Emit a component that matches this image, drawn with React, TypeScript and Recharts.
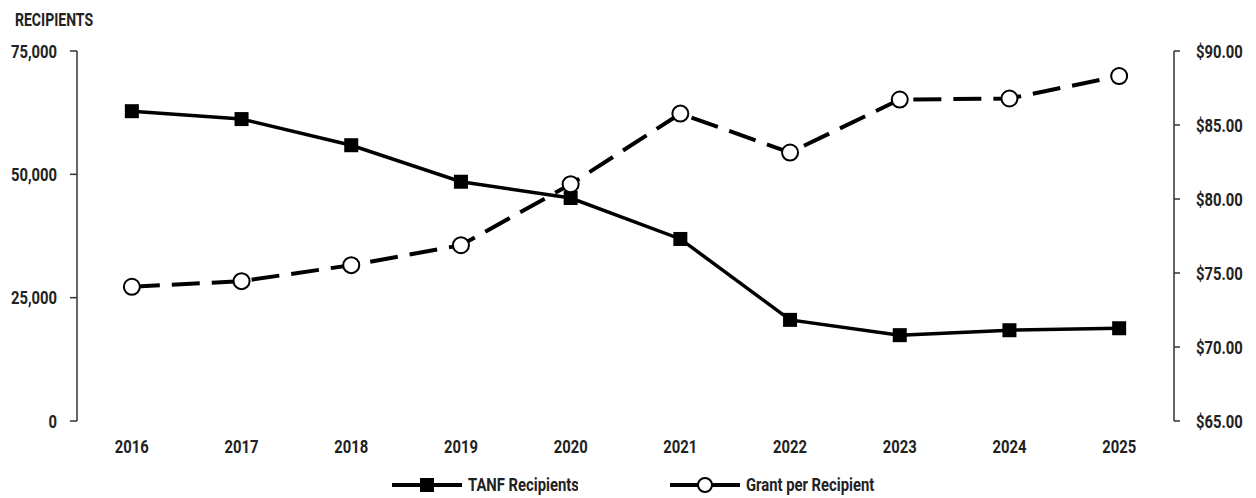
import React from 'react';
import { LineChart, Line, XAxis, YAxis, Legend } from 'recharts';

const years = ['2016', '2017', '2018', '2019', '2020', '2021', '2022', '2023', '2024', '2025'];
const tanfRecipients = [62800, 61200, 55900, 48500, 45200, 36900, 20500, 17400, 18400, 18800];
const grantPerRecipient = [74.07, 74.45, 75.53, 76.88, 81.0, 85.77, 83.14, 86.72, 86.79, 88.31];
const recipientTicks = [0, 25000, 50000, 75000];
const grantTicks = [65, 70, 75, 80, 85, 90];
const seriesOrder = ['tanf', 'grant'];

const FONT = 'Roboto, "DejaVu Sans", sans-serif';
const SQUEEZE = 0.78; // the original face is a condensed one, so squeeze it horizontally
const INK = '#000';
const AXIS = '#333';
const TEXT = '#222';

// each year sits in the middle of its slot, ticks go on the slot edges
const data = years.map((year, i) => ({
  year,
  slot: i + 0.5,
  tanf: tanfRecipients[i],
  grant: grantPerRecipient[i],
}));
const labelTicks = years.map((_, i) => i + 0.5);
const edgeTicks = [0, ...years.map((_, i) => i + 1)];

const makeTick = (fmt: (v: number) => string, anchor: string, dy: string) => (props: any) => {
  const { x, y, payload } = props;
  return (
    <g transform={`translate(${x},${y})`}>
      <text
        transform={`scale(${SQUEEZE},1)`}
        textAnchor={anchor}
        dy={dy}
        fill={TEXT}
        fontFamily={FONT}
        fontWeight={700}
        fontSize={19}
      >
        {fmt(payload.value)}
      </text>
    </g>
  );
};

const YearTick = makeTick((v) => years[Math.floor(v)], 'middle', '0.71em');
const RecipientTick = makeTick((v) => v.toLocaleString('en-US'), 'end', '0.355em');
const GrantTick = makeTick((v) => `$${v.toFixed(2)}`, 'start', '0.355em');

const SquareDot = (props: any) => {
  const { cx, cy, index } = props;
  if (cx == null || cy == null) return null;
  return <rect key={`sq-${index}`} x={cx - 7} y={cy - 7} width={14} height={14} fill={INK} />;
};

const CircleDot = (props: any) => {
  const { cx, cy, index } = props;
  if (cx == null || cy == null) return null;
  return <circle key={`ci-${index}`} cx={cx} cy={cy} r={8} fill="#fff" stroke={INK} strokeWidth={2} />;
};

const LegendContent = (props: any) => {
  const items = [...(props.payload || [])].sort(
    (a: any, b: any) => seriesOrder.indexOf(a.dataKey) - seriesOrder.indexOf(b.dataKey)
  );
  return (
    <div
      style={{
        height: 26,
        display: 'flex',
        justifyContent: 'center',
        alignItems: 'center',
        gap: 92,
        paddingLeft: 12,
      }}
    >
      {items.map((entry: any) => (
        <div key={entry.value} style={{ display: 'flex', alignItems: 'center', gap: 6 }}>
          <svg width={70} height={20}>
            <line x1={0} y1={10} x2={70} y2={10} stroke={INK} strokeWidth={4} />
            {entry.dataKey === 'tanf' ? (
              <rect x={28} y={3} width={14} height={14} fill={INK} />
            ) : (
              <circle cx={35} cy={10} r={7} fill="#fff" stroke={INK} strokeWidth={2} />
            )}
          </svg>
          <svg width={entry.dataKey === 'tanf' ? 110 : 130} height={24}>
            <text
              x={0}
              y={18}
              transform={`scale(${SQUEEZE},1)`}
              fill={TEXT}
              fontFamily={FONT}
              fontWeight={700}
              fontSize={19}
            >
              {entry.value}
            </text>
          </svg>
        </div>
      ))}
    </div>
  );
};

export default function App() {
  return (
    <div style={{ position: 'absolute', left: 0, top: 0, width: 1256, height: 498, background: '#fff' }}>
      <svg width={120} height={30} style={{ position: 'absolute', left: 0, top: 0 }}>
        <text
          x={15 / SQUEEZE}
          y={26}
          transform={`scale(${SQUEEZE},1)`}
          fill={TEXT}
          fontFamily={FONT}
          fontWeight={700}
          fontSize={18}
        >
          RECIPIENTS
        </text>
      </svg>
      <LineChart width={1256} height={498} data={data} margin={{ top: 51, right: 0, bottom: 0, left: 0 }}>
        <XAxis
          xAxisId="edges"
          dataKey="slot"
          type="number"
          domain={[0, years.length]}
          ticks={edgeTicks}
          tick={false}
          tickSize={6}
          height={0}
          axisLine={{ stroke: AXIS, strokeWidth: 1.5 }}
          tickLine={{ stroke: AXIS, strokeWidth: 1.5 }}
        />
        <XAxis
          xAxisId="years"
          dataKey="slot"
          type="number"
          domain={[0, years.length]}
          ticks={labelTicks}
          axisLine={false}
          tickLine={false}
          tickSize={0}
          tickMargin={18}
          height={51}
          tick={YearTick}
          interval={0}
        />
        <YAxis
          yAxisId="left"
          domain={[0, 75000]}
          ticks={recipientTicks}
          width={77}
          tickSize={7}
          tickMargin={13}
          tick={RecipientTick}
          axisLine={{ stroke: AXIS, strokeWidth: 1.5 }}
          tickLine={{ stroke: AXIS, strokeWidth: 1.5 }}
        />
        <YAxis
          yAxisId="right"
          orientation="right"
          domain={[65, 90]}
          ticks={grantTicks}
          width={82}
          tickSize={6}
          tickMargin={16}
          tick={GrantTick}
          axisLine={{ stroke: AXIS, strokeWidth: 1.5 }}
          tickLine={{ stroke: AXIS, strokeWidth: 1.5 }}
        />
        <Legend verticalAlign="bottom" content={<LegendContent />} />
        <Line
          xAxisId="edges"
          yAxisId="left"
          dataKey="tanf"
          name="TANF Recipients"
          stroke={INK}
          strokeWidth={3.5}
          dot={SquareDot}
          activeDot={false}
          isAnimationActive={false}
        />
        <Line
          xAxisId="edges"
          yAxisId="right"
          dataKey="grant"
          name="Grant per Recipient"
          stroke={INK}
          strokeWidth={4}
          strokeDasharray="28 12"
          dot={CircleDot}
          activeDot={false}
          isAnimationActive={false}
        />
      </LineChart>
    </div>
  );
}
